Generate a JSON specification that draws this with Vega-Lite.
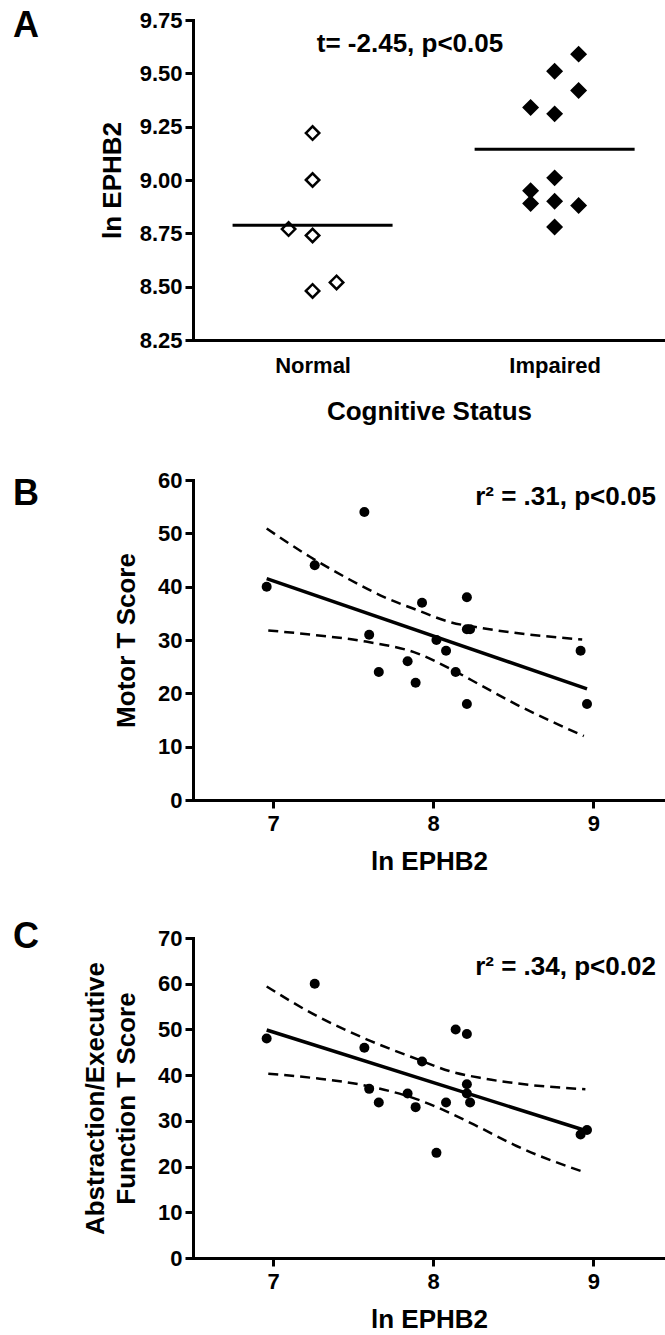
{
  "$schema": "https://vega.github.io/schema/vega-lite/v6.json",
  "padding": {"left": 13, "top": 8, "right": 0, "bottom": 0},
  "background": "white",
  "spacing": 45,
  "config": {
    "font": "Liberation Sans",
    "view": {"stroke": null},
    "axis": {
      "domainColor": "black", "domainWidth": 3, "domainCap": "square",
      "tickColor": "black", "tickWidth": 3, "tickSize": 8,
      "labelFont": "Liberation Sans", "labelFontWeight": "bold", "labelFontSize": 22, "labelColor": "black", "labelPadding": 3,
      "titleFont": "Liberation Sans", "titleFontWeight": "bold", "titleFontSize": 26, "titleColor": "black",
      "grid": false
    },
    "title": {"font": "Liberation Sans", "fontWeight": "bold", "fontSize": 36, "color": "black", "anchor": "start", "frame": "group", "dx": -180}
  },
  "datasets": {
    "groups": [
      {"status": "Normal", "col": 0, "ephb2": 9.22},
      {"status": "Normal", "col": 0, "ephb2": 9.00},
      {"status": "Normal", "col": -1, "ephb2": 8.77},
      {"status": "Normal", "col": 0, "ephb2": 8.74},
      {"status": "Normal", "col": 0, "ephb2": 8.48},
      {"status": "Normal", "col": 1, "ephb2": 8.52},
      {"status": "Impaired", "col": 1, "ephb2": 9.59},
      {"status": "Impaired", "col": 0, "ephb2": 9.51},
      {"status": "Impaired", "col": 1, "ephb2": 9.42},
      {"status": "Impaired", "col": -1, "ephb2": 9.34},
      {"status": "Impaired", "col": 0, "ephb2": 9.31},
      {"status": "Impaired", "col": 0, "ephb2": 9.01},
      {"status": "Impaired", "col": -1, "ephb2": 8.95},
      {"status": "Impaired", "col": -1, "ephb2": 8.89},
      {"status": "Impaired", "col": 0, "ephb2": 8.90},
      {"status": "Impaired", "col": 1, "ephb2": 8.88},
      {"status": "Impaired", "col": 0, "ephb2": 8.78}
    ],
    "motor": [
      {"ln": 6.96, "score": 40}, {"ln": 7.26, "score": 44}, {"ln": 7.57, "score": 54},
      {"ln": 7.60, "score": 31}, {"ln": 7.66, "score": 24}, {"ln": 7.84, "score": 26},
      {"ln": 7.89, "score": 22}, {"ln": 7.93, "score": 37}, {"ln": 8.02, "score": 30},
      {"ln": 8.08, "score": 28}, {"ln": 8.14, "score": 24}, {"ln": 8.21, "score": 38},
      {"ln": 8.21, "score": 32}, {"ln": 8.23, "score": 32}, {"ln": 8.21, "score": 18},
      {"ln": 8.92, "score": 28}, {"ln": 8.96, "score": 18}
    ],
    "motorCI": [
      {"band": "upper", "ln": 6.96, "score": 50.9}, {"band": "upper", "ln": 7.23, "score": 45.6},
      {"band": "upper", "ln": 7.48, "score": 41.3}, {"band": "upper", "ln": 7.69, "score": 38.1},
      {"band": "upper", "ln": 7.90, "score": 35.6}, {"band": "upper", "ln": 8.10, "score": 33.4},
      {"band": "upper", "ln": 8.31, "score": 32.2}, {"band": "upper", "ln": 8.52, "score": 31.3},
      {"band": "upper", "ln": 8.93, "score": 30.1},
      {"band": "lower", "ln": 6.97, "score": 31.8}, {"band": "lower", "ln": 7.27, "score": 30.9},
      {"band": "lower", "ln": 7.58, "score": 29.7}, {"band": "lower", "ln": 7.90, "score": 27.5},
      {"band": "lower", "ln": 8.10, "score": 24.7}, {"band": "lower", "ln": 8.31, "score": 21.3},
      {"band": "lower", "ln": 8.52, "score": 17.9}, {"band": "lower", "ln": 8.94, "score": 12.0}
    ],
    "exec": [
      {"ln": 6.96, "score": 48}, {"ln": 7.26, "score": 60}, {"ln": 7.57, "score": 46},
      {"ln": 7.60, "score": 37}, {"ln": 7.66, "score": 34}, {"ln": 7.84, "score": 36},
      {"ln": 7.89, "score": 33}, {"ln": 7.93, "score": 43}, {"ln": 8.02, "score": 23},
      {"ln": 8.08, "score": 34}, {"ln": 8.14, "score": 50}, {"ln": 8.21, "score": 49},
      {"ln": 8.21, "score": 38}, {"ln": 8.21, "score": 36}, {"ln": 8.23, "score": 34},
      {"ln": 8.92, "score": 27}, {"ln": 8.96, "score": 28}
    ],
    "execCI": [
      {"band": "upper", "ln": 6.96, "score": 59.4}, {"band": "upper", "ln": 7.27, "score": 53.0},
      {"band": "upper", "ln": 7.58, "score": 47.9}, {"band": "upper", "ln": 7.90, "score": 43.5},
      {"band": "upper", "ln": 8.10, "score": 40.9}, {"band": "upper", "ln": 8.31, "score": 39.3},
      {"band": "upper", "ln": 8.52, "score": 38.2}, {"band": "upper", "ln": 8.95, "score": 36.9},
      {"band": "lower", "ln": 6.97, "score": 40.3}, {"band": "lower", "ln": 7.27, "score": 39.3},
      {"band": "lower", "ln": 7.58, "score": 37.7}, {"band": "lower", "ln": 7.90, "score": 34.7},
      {"band": "lower", "ln": 8.10, "score": 31.8}, {"band": "lower", "ln": 8.31, "score": 28.2},
      {"band": "lower", "ln": 8.52, "score": 24.5}, {"band": "lower", "ln": 8.95, "score": 18.7}
    ]
  },
  "vconcat": [
    {
      "width": 472, "height": 320,
      "title": {"text": "A", "dy": 40},
      "layer": [
        {
          "data": {"name": "groups"},
          "mark": {"type": "point", "shape": "diamond", "size": 180, "filled": true, "stroke": "black", "strokeWidth": 2.5, "opacity": 1},
          "encoding": {
            "x": {"field": "status", "type": "nominal", "sort": ["Normal", "Impaired"],
                  "scale": {"type": "point", "padding": 0.475, "align": 0.52},
                  "axis": {"title": "Cognitive Status", "labelAngle": 0, "ticks": false, "tickSize": 0, "labelPadding": 15, "titlePadding": 22}},
            "xOffset": {"field": "col", "type": "quantitative", "scale": {"domain": [-1, 1], "range": [-24, 24]}},
            "y": {"field": "ephb2", "type": "quantitative",
                  "scale": {"domain": [8.25, 9.75], "nice": false, "zero": false},
                  "axis": {"title": "ln EPHB2", "values": [8.25, 8.5, 8.75, 9, 9.25, 9.5, 9.75], "format": ".2f", "titlePadding": 14}},
            "fill": {"field": "status", "type": "nominal", "scale": {"domain": ["Normal", "Impaired"], "range": ["white", "black"]}, "legend": null}
          }
        },
        {
          "data": {"name": "groups"},
          "mark": {"type": "tick", "size": 160, "thickness": 3, "color": "black", "opacity": 1},
          "encoding": {
            "x": {"field": "status", "type": "nominal", "sort": ["Normal", "Impaired"]},
            "y": {"aggregate": "mean", "field": "ephb2", "type": "quantitative"}
          }
        },
        {
          "data": {"values": [{"label": "t= -2.45, p<0.05"}]},
          "mark": {"type": "text", "fontSize": 26, "fontWeight": "bold", "color": "black", "align": "center", "baseline": "alphabetic", "dx": -19},
          "encoding": {"text": {"field": "label"}, "y": {"datum": 9.6}}
        }
      ]
    },
    {
      "width": 472, "height": 320,
      "title": {"text": "B", "dy": 48},
      "layer": [
        {
          "data": {"name": "motorCI"},
          "mark": {"type": "line", "color": "black", "strokeWidth": 2.5, "strokeDash": [10, 6], "interpolate": "monotone"},
          "encoding": {
            "x": {"field": "ln", "type": "quantitative", "scale": {"domain": [6.5, 9.447], "nice": false, "zero": false},
                  "axis": {"title": "ln EPHB2", "values": [7, 8, 9], "format": "d", "labelPadding": 5, "titlePadding": 14}},
            "y": {"field": "score", "type": "quantitative", "scale": {"domain": [0, 60], "nice": false},
                  "axis": {"title": "Motor T Score", "values": [0, 10, 20, 30, 40, 50, 60], "titlePadding": 18}},
            "detail": {"field": "band"}
          }
        },
        {
          "data": {"name": "motor"},
          "transform": [{"regression": "score", "on": "ln"}],
          "mark": {"type": "line", "color": "black", "strokeWidth": 3.5},
          "encoding": {"x": {"field": "ln", "type": "quantitative"}, "y": {"field": "score", "type": "quantitative"}}
        },
        {
          "data": {"name": "motor"},
          "mark": {"type": "circle", "size": 100, "color": "black", "opacity": 1},
          "encoding": {"x": {"field": "ln", "type": "quantitative"}, "y": {"field": "score", "type": "quantitative"}}
        },
        {
          "data": {"values": [{"label": "r² = .31, p<0.05"}]},
          "mark": {"type": "text", "fontSize": 26, "fontWeight": "bold", "color": "black", "align": "right", "baseline": "alphabetic"},
          "encoding": {"text": {"field": "label"}, "x": {"datum": 9.39}, "y": {"datum": 55.3}}
        }
      ]
    },
    {
      "width": 472, "height": 320,
      "title": {"text": "C", "dy": 33},
      "layer": [
        {
          "data": {"name": "execCI"},
          "mark": {"type": "line", "color": "black", "strokeWidth": 2.5, "strokeDash": [10, 6], "interpolate": "monotone"},
          "encoding": {
            "x": {"field": "ln", "type": "quantitative", "scale": {"domain": [6.5, 9.447], "nice": false, "zero": false},
                  "axis": {"title": "ln EPHB2", "values": [7, 8, 9], "format": "d", "labelPadding": 5, "titlePadding": 14}},
            "y": {"field": "score", "type": "quantitative", "scale": {"domain": [0, 70], "nice": false},
                  "axis": {"title": ["Abstraction/Executive", "Function T Score"], "titleLineHeight": 31, "values": [0, 10, 20, 30, 40, 50, 60, 70], "titlePadding": 18}},
            "detail": {"field": "band"}
          }
        },
        {
          "data": {"name": "exec"},
          "transform": [{"regression": "score", "on": "ln"}],
          "mark": {"type": "line", "color": "black", "strokeWidth": 3.5},
          "encoding": {"x": {"field": "ln", "type": "quantitative"}, "y": {"field": "score", "type": "quantitative"}}
        },
        {
          "data": {"name": "exec"},
          "mark": {"type": "circle", "size": 100, "color": "black", "opacity": 1},
          "encoding": {"x": {"field": "ln", "type": "quantitative"}, "y": {"field": "score", "type": "quantitative"}}
        },
        {
          "data": {"values": [{"label": "r² = .34, p<0.02"}]},
          "mark": {"type": "text", "fontSize": 26, "fontWeight": "bold", "color": "black", "align": "right", "baseline": "alphabetic"},
          "encoding": {"text": {"field": "label"}, "x": {"datum": 9.39}, "y": {"datum": 61.9}}
        }
      ]
    }
  ]
}
